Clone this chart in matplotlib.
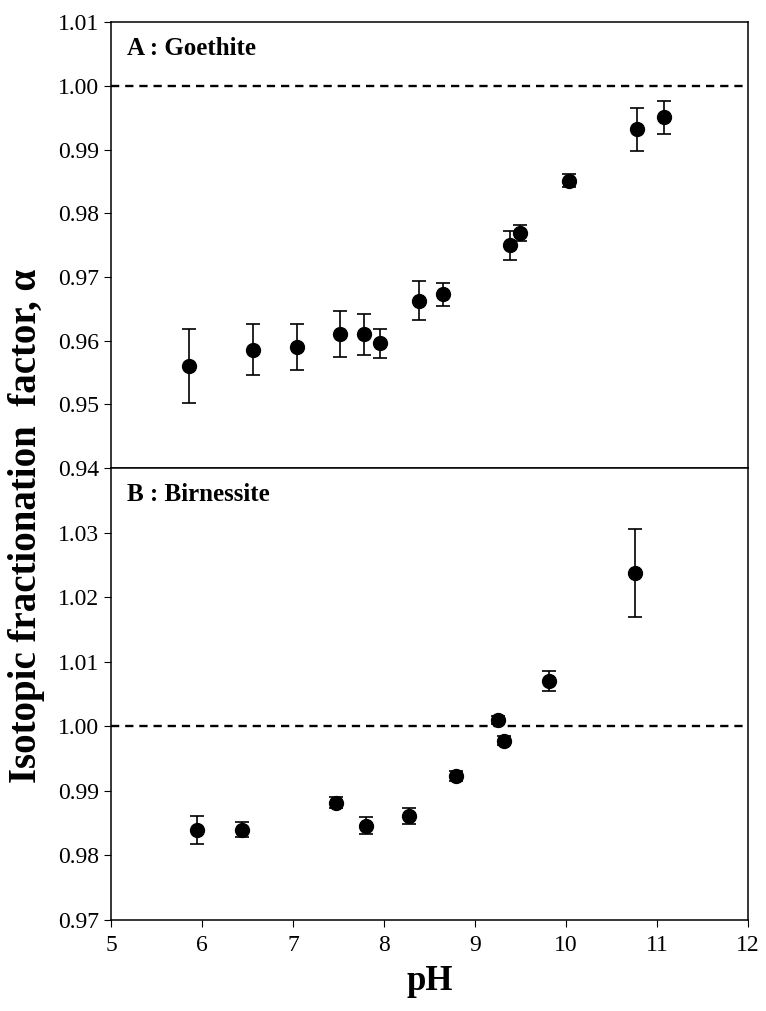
import matplotlib.pyplot as plt

# Goethite (panel A)
ph_goe = [5.86, 6.56, 7.04, 7.52, 7.78, 7.96, 8.38, 8.65, 9.38, 9.49, 10.03, 10.78, 11.08]
alpha_goe = [0.9560, 0.9586, 0.9590, 0.9610, 0.9610, 0.9596, 0.9663, 0.9673, 0.9750, 0.9769, 0.9851, 0.9932, 0.9951]
err_goe = [0.0058, 0.0040, 0.0036, 0.0036, 0.0032, 0.0023, 0.0030, 0.0018, 0.0023, 0.0013, 0.0010, 0.0034, 0.0026]

# Birnessite (panel B)
ph_bir = [5.94, 6.44, 7.47, 7.80, 8.27, 8.79, 9.25, 9.32, 9.81, 10.76]
alpha_bir = [0.9839, 0.9840, 0.9882, 0.9846, 0.9861, 0.9923, 1.0010, 0.9978, 1.0070, 1.0238]
err_bir = [0.0022, 0.0012, 0.0009, 0.0013, 0.0012, 0.0008, 0.0006, 0.0007, 0.0015, 0.0068]

plt.rcParams['font.family'] = ['Liberation Serif', 'DejaVu Serif']
fontsize = 17

fig = plt.figure(figsize=(7.66, 10.11), dpi=100)
ax1 = fig.add_axes([0.145, 0.537, 0.8315, 0.441])
ax2 = fig.add_axes([0.145, 0.090, 0.8315, 0.447])

for ax, x, y, e, label in [(ax1, ph_goe, alpha_goe, err_goe, 'A : Goethite'),
                           (ax2, ph_bir, alpha_bir, err_bir, 'B : Birnessite')]:
    ax.errorbar(x, y, yerr=e, fmt='o', color='k', markersize=10,
                ecolor='k', elinewidth=1.2, capsize=5, capthick=1.2)
    ax.axhline(1.0, color='k', linestyle=(0, (3.5, 2.5)), linewidth=1.7)
    ax.text(0.025, 0.968, label, transform=ax.transAxes, fontsize=18,
            fontweight='bold', va='top', ha='left')
    ax.set_xlim(5, 12)
    ax.tick_params(axis='y', direction='out', length=5, labelsize=fontsize, right=False)
    for s in ax.spines.values():
        s.set_linewidth(1.1)

ax1.set_ylim(0.94, 1.01)
ax1.set_yticks([0.94, 0.95, 0.96, 0.97, 0.98, 0.99, 1.00, 1.01])
ax1.set_yticklabels(['0.94', '0.95', '0.96', '0.97', '0.98', '0.99', '1.00', '1.01'])
ax1.tick_params(axis='x', bottom=False, labelbottom=False)

ax2.set_ylim(0.97, 1.04)
ax2.set_yticks([0.97, 0.98, 0.99, 1.00, 1.01, 1.02, 1.03])
ax2.set_yticklabels(['0.97', '0.98', '0.99', '1.00', '1.01', '1.02', '1.03'])
ax2.set_xticks(range(5, 13))
ax2.tick_params(axis='x', direction='out', length=5, labelsize=fontsize, pad=6)
ax2.set_xlabel('pH', fontsize=25, fontweight='bold', labelpad=6)

fig.text(0.035, 0.480, 'Isotopic fractionation  factor, \u03b1', rotation=90,
         fontsize=28, fontweight='bold', ha='center', va='center')

plt.savefig('out.png', dpi=100)
